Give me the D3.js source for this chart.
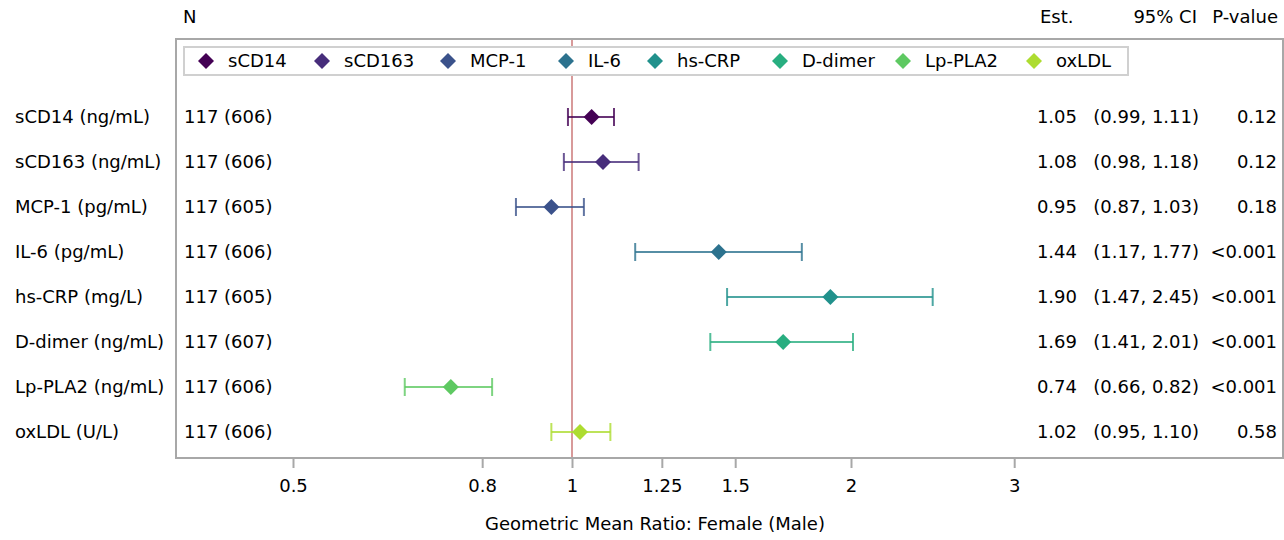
<!DOCTYPE html>
<html>
<head>
<meta charset="utf-8">
<script src="https://cdn.jsdelivr.net/npm/d3@7"></script>
<style>
  body { margin: 0; background: #fff; }
  text { font-family: "DejaVu Sans", sans-serif; font-size: 18px; fill: #000; }
</style>
</head>
<body>
<script>
// data
var markers = ["sCD14", "sCD163", "MCP-1", "IL-6", "hs-CRP", "D-dimer", "Lp-PLA2", "oxLDL"];
var rowLabels = ["sCD14 (ng/mL)", "sCD163 (ng/mL)", "MCP-1 (pg/mL)", "IL-6 (pg/mL)",
                 "hs-CRP (mg/L)", "D-dimer (ng/mL)", "Lp-PLA2 (ng/mL)", "oxLDL (U/L)"];
var nText = ["117 (606)", "117 (606)", "117 (605)", "117 (606)", "117 (605)", "117 (607)", "117 (606)", "117 (606)"];
var est = [1.05, 1.08, 0.95, 1.44, 1.90, 1.69, 0.74, 1.02];
var lower = [0.99, 0.98, 0.87, 1.17, 1.47, 1.41, 0.66, 0.95];
var upper = [1.11, 1.18, 1.03, 1.77, 2.45, 2.01, 0.82, 1.10];
var pval = ["0.12", "0.12", "0.18", "<0.001", "<0.001", "<0.001", "<0.001", "0.58"];
var ticks = [0.5, 0.8, 1, 1.25, 1.5, 2, 3];
var colors = ["#440154", "#472d7b", "#3b528b", "#2c728e", "#21918c", "#28ae80", "#5ec962", "#addc30"];

var w = 1284, h = 540;
var box = {l: 176, r: 1283, t: 39, b: 458};

var svg = d3.select("body").append("svg")
  .attr("width", w)
  .attr("height", h);

var x = d3.scaleLog().base(2).domain([0.5, 2]).range([293, 851]);
var y = d3.scalePoint().domain(markers).range([117, 432]);
var col = d3.scaleOrdinal().domain(markers).range(colors);

// frame
svg.append("rect")
  .attr("x", box.l).attr("y", box.t)
  .attr("width", box.r - box.l).attr("height", box.b - box.t)
  .attr("fill", "none").attr("stroke", "#a8a8a8").attr("stroke-width", 2);

// reference line at 1
svg.append("line")
  .attr("x1", x(1)).attr("x2", x(1))
  .attr("y1", box.t + 1).attr("y2", box.b - 1)
  .attr("stroke", "#d89a9a").attr("stroke-width", 2);

// x axis
var axis = svg.append("g").attr("transform", "translate(0," + box.b + ")")
  .call(d3.axisBottom(x).tickValues(ticks).tickFormat(d3.format("")).tickSize(10).tickPadding(11));
axis.select(".domain").remove();
axis.selectAll(".tick line").attr("stroke", "#a8a8a8").attr("stroke-width", 2);
axis.selectAll(".tick text").style("font-size", "18px").attr("fill", "#000");

svg.append("text")
  .attr("x", 655).attr("y", 530)
  .attr("text-anchor", "middle")
  .text("Geometric Mean Ratio: Female (Male)");

// header
svg.append("text").attr("x", 183).attr("y", 23).text("N");
svg.append("text").attr("x", 1040).attr("y", 23).text("Est.");
svg.append("text").attr("x", 1197).attr("y", 23).attr("text-anchor", "end").text("95% CI");
svg.append("text").attr("x", 1278).attr("y", 23).attr("text-anchor", "end").text("P-value");

// table columns
var rows = svg.selectAll(".row")
  .data(markers)
  .enter()
  .append("g")
  .attr("class", "row");

rows.append("text").attr("x", 15).attr("y", function(d) { return y(d) + 6; })
  .text(function(d, i) { return rowLabels[i]; });
rows.append("text").attr("x", 184).attr("y", function(d) { return y(d) + 6; })
  .text(function(d, i) { return nText[i]; });
rows.append("text").attr("x", 1077).attr("y", function(d) { return y(d) + 6; })
  .attr("text-anchor", "end")
  .text(function(d, i) { return est[i].toFixed(2); });
rows.append("text").attr("x", 1199).attr("y", function(d) { return y(d) + 6; })
  .attr("text-anchor", "end")
  .text(function(d, i) { return "(" + lower[i].toFixed(2) + ", " + upper[i].toFixed(2) + ")"; });
rows.append("text").attr("x", 1277).attr("y", function(d) { return y(d) + 6; })
  .attr("text-anchor", "end")
  .text(function(d, i) { return pval[i]; });

// error bars
var cap = 9;
rows.append("line")
  .attr("x1", function(d, i) { return x(lower[i]); })
  .attr("x2", function(d, i) { return x(upper[i]); })
  .attr("y1", function(d) { return y(d); })
  .attr("y2", function(d) { return y(d); })
  .attr("stroke", function(d) { return col(d); })
  .attr("stroke-opacity", 0.8).attr("stroke-width", 2);
rows.append("line")
  .attr("x1", function(d, i) { return x(lower[i]); })
  .attr("x2", function(d, i) { return x(lower[i]); })
  .attr("y1", function(d) { return y(d) - cap; })
  .attr("y2", function(d) { return y(d) + cap; })
  .attr("stroke", function(d) { return col(d); })
  .attr("stroke-opacity", 0.8).attr("stroke-width", 2);
rows.append("line")
  .attr("x1", function(d, i) { return x(upper[i]); })
  .attr("x2", function(d, i) { return x(upper[i]); })
  .attr("y1", function(d) { return y(d) - cap; })
  .attr("y2", function(d) { return y(d) + cap; })
  .attr("stroke", function(d) { return col(d); })
  .attr("stroke-opacity", 0.8).attr("stroke-width", 2);

// diamonds
var diamond = "M0,-8L8,0L0,8L-8,0Z";
rows.append("path")
  .attr("d", diamond)
  .attr("transform", function(d, i) { return "translate(" + x(est[i]) + "," + y(d) + ")"; })
  .attr("fill", function(d) { return col(d); });

// legend
var legX = [206, 322, 448, 566, 655, 780, 903, 1034];
svg.append("rect")
  .attr("x", 184).attr("y", 47).attr("width", 944).attr("height", 28)
  .attr("fill", "#fff").attr("stroke", "#d0d0d0").attr("stroke-width", 2);
var leg = svg.selectAll(".leg")
  .data(markers)
  .enter()
  .append("g")
  .attr("class", "leg")
  .attr("transform", function(d, i) { return "translate(" + legX[i] + ",61)"; });
leg.append("path").attr("d", diamond).attr("fill", function(d) { return col(d); });
leg.append("text").attr("x", 22).attr("y", 6).text(function(d) { return d; });
</script>
</body>
</html>
